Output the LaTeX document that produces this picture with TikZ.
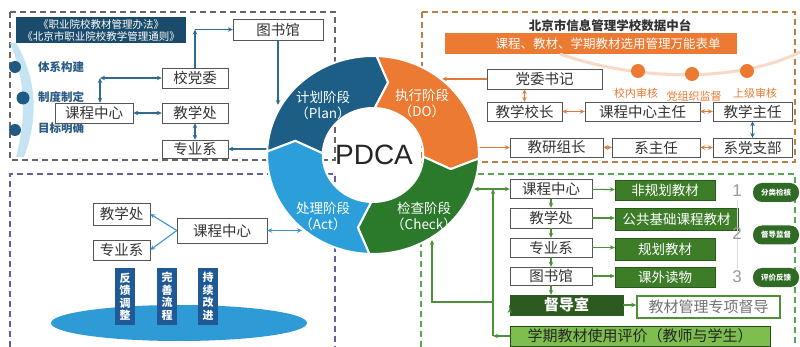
\documentclass[tikz,border=0pt]{standalone}
\usepackage{fontspec}
\setmainfont{Noto Sans CJK SC}
\newfontfamily\latinfont{Liberation Sans}
\usetikzlibrary{arrows.meta, positioning, calc}

\definecolor{plancol}{HTML}{1D5E86}
\definecolor{docol}{HTML}{EC7A32}
\definecolor{checkcol}{HTML}{2B7A2B}
\definecolor{actcol}{HTML}{2C9FDA}
\definecolor{navy}{HTML}{1B4B6A}
\definecolor{tlline}{HTML}{2F6A8F}
\definecolor{orline}{HTML}{E07B3C}
\definecolor{peach}{HTML}{F7D9C6}
\definecolor{blline}{HTML}{3C93CF}
\definecolor{tagblue}{HTML}{1F5A96}
\definecolor{ellblue}{HTML}{2E9BD6}
\definecolor{grline}{HTML}{4E8F3A}
\definecolor{grfill}{HTML}{3D7D28}
\definecolor{ddrfill}{HTML}{2D5A20}
\definecolor{ltgreen}{HTML}{7DBE4F}
\definecolor{pillgreen}{HTML}{2F6B24}
\definecolor{bandblue}{HTML}{C5E3F2}
\definecolor{dotblue}{HTML}{1E5A82}
\definecolor{lblblue}{HTML}{2B5C85}
\definecolor{boxline}{HTML}{555555}

\begin{document}
\begin{tikzpicture}[x=1pt, y=1pt,
  bx/.style={draw=boxline, fill=white, inner sep=0pt, minimum height=20pt, text=black!80,
    font=\fontsize{14.5}{15}\selectfont},
  gbx/.style={bx, fill=grfill, draw=grfill!70!black, text=white, font=\fontsize{13.5}{14}\selectfont},
  tag/.style={fill=tagblue, text=white, minimum width=20pt, minimum height=57pt, inner sep=0pt,
    align=center, font=\fontsize{11}{12.5}\selectfont\bfseries},
  pill/.style={fill=pillgreen, text=white, rounded corners=9pt, minimum width=46pt, minimum height=19pt,
    inner sep=0pt, font=\fontsize{7.5}{8}\selectfont\bfseries},
  seglbl/.style={text=white, align=center, font=\fontsize{13.5}{16}\selectfont},
  dashbox/.style={dash pattern=on 6pt off 4pt, line width=1.2pt},
  conn/.style={line width=1.1pt, >={Stealth[length=5pt, width=4.5pt]}}]
\useasboundingbox (0,0) rectangle (800,-347);

% dashed frames
\draw[dashbox, draw=gray!80!black] (10,-12) rectangle (335,-160);
\draw[dashbox, draw=orange!45!gray] (422,-12) rectangle (795,-162);
\draw[dashbox, draw=blue!25!gray] (10,-347) -- (10,-174) -- (335,-174) -- (335,-347);
\draw[dashbox, draw=green!30!gray] (421,-347) -- (421,-174) -- (795,-174) -- (795,-347);

% ---------- top left: plan ----------
\fill[bandblue] (16,-43) .. controls (38,-80) and (38,-120) .. (24,-157) -- (16,-157)
  .. controls (26,-120) and (26,-80) .. (10,-43) -- cycle;
\fill[dotblue] (15,-67) circle (6) (23,-98) circle (6.5) (15,-130) circle (6);
\node[fill=navy, minimum width=170pt, minimum height=26pt, inner sep=0pt, align=center, text=white,
  font=\fontsize{10.5}{12}\selectfont] (law) at (101,-30.5) {《职业院校教材管理办法》\\《北京市职业院校教学管理通则》};
\node[text=lblblue, font=\fontsize{11.5}{12}\selectfont\bfseries] (tx1) at (61,-67) {体系构建};
\node[text=lblblue, font=\fontsize{11.5}{12}\selectfont\bfseries] (tx2) at (61,-97) {制度制定};
\node[text=lblblue, font=\fontsize{11.5}{12}\selectfont\bfseries] (tx3) at (61,-128) {目标明确};

\node[bx, minimum width=66pt] (xdw) at (195,-78) {校党委};
\node[bx, minimum width=78pt] (kcz) at (94,-113) {课程中心};
\node[bx, minimum width=66pt] (jxc) at (195,-113) {教学处};
\node[bx, minimum width=66pt, minimum height=18pt] (zyx) at (195,-149) {专业系};
\node[bx, minimum width=90pt, minimum height=21pt] (tsg) at (278,-29.5) {图书馆};

\coordinate (c1) at (100,-78);
\coordinate (c2) at (195,-29.5);
\coordinate (pl1) at (278,-105);
\coordinate (pl2) at (268,-149);
\begin{scope}[conn, draw=tlline]
\draw[<->] (kcz.north -| c1) -- (c1);
\draw[<->] (c1) -- (xdw.west);
\draw[->] (xdw.north) -- (c2);
\draw[->] (c2) -- (tsg.west);
\draw[<->] (kcz) -- (jxc);
\draw[<->] (jxc) -- (zyx);
\draw[->] (tsg.south) -- (pl1);
\draw[->] (pl2) -- (zyx.east);
\end{scope}

% ---------- top right: do ----------
\node[text=black!80, font=\fontsize{12.5}{13}\selectfont\bfseries] (ttl) at (610,-26) {北京市信息管理学校数据中台};
\fill[docol] (445,-33) rectangle (737,-54);
\node[text=white, font=\fontsize{12.5}{13}\selectfont] (ban) at (608,-43.5) {课程、教材、学期教材选用管理万能表单};
\draw[peach, line width=3pt] (560,-54) .. controls (640,-82) and (740,-82) .. (800,-52);
\fill[docol] (638,-71) circle (7) (692,-74) circle (7) (747,-71) circle (7);
\node[text=docol, font=\fontsize{11}{11}\selectfont] (sh1) at (636,-93) {校内审核};
\node[text=docol, font=\fontsize{11}{11}\selectfont] (sh2) at (694,-96) {党组织监督};
\node[text=docol, font=\fontsize{11}{11}\selectfont] (sh3) at (755,-93) {上级审核};

\node[bx, minimum width=115pt] (dwsj) at (544.5,-79) {党委书记};
\node[bx, minimum width=75pt, minimum height=19pt] (jxxz) at (524.5,-111.5) {教学校长};
\node[bx, minimum width=115pt, minimum height=19pt] (kczr) at (642.5,-111.5) {课程中心主任};
\node[bx, minimum width=79pt, minimum height=19pt] (jxzr) at (752.5,-111.5) {教学主任};
\node[bx, minimum width=93pt, minimum height=19pt] (jyzz) at (556.5,-147.5) {教研组长};
\node[bx, minimum width=88pt, minimum height=19pt] (xzr) at (656,-147.5) {系主任};
\node[bx, minimum width=79pt, minimum height=19pt] (xdzb) at (752.5,-147.5) {系党支部};

\coordinate (do1) at (442,-79);
\coordinate (do2) at (478,-147.5);
\begin{scope}[conn, draw=orline]
\draw[<->] (jxxz.north) -- (jxxz.north |- dwsj.south);
\draw[<->] (jxxz) -- (kczr);
\draw[<->] (kczr) -- (jxzr);
\draw[<->] (jyzz) -- (xzr);
\draw[<->] (xzr) -- (xdzb);
\draw[<->, draw=tlline] (jxzr) -- (xdzb);
\draw[->] (dwsj.west) -- (do1);
\draw[->] (do2) -- (jyzz.west);
\end{scope}

% ---------- PDCA ring ----------
\begin{scope}[shift={(373,-155)}, xscale=1.07]
\foreach \s/\c in {178/plancol, 88/docol, -2/checkcol, -92/actcol} {
  \pgfmathsetmacro{\e}{\s-90}
  \pgfmathsetmacro{\ep}{\s-99}
  \pgfmathsetmacro{\sp}{\s-9}
  \filldraw[fill=\c, draw=white, line width=2pt] (\s:99) arc[start angle=\s, end angle=\e, radius=99]
    -- (\ep:74) -- (\e:47) arc[start angle=\e, end angle=\s, radius=47] -- (\sp:74) -- cycle;
}
\end{scope}
\node[font=\latinfont\fontsize{28}{28}\selectfont, text=black!85] (pdca) at (374,-155) {PDCA};
\node[seglbl] (plan) at (323,-105) {计划阶段\\（Plan）};
\node[seglbl] (do) at (422,-103) {执行阶段\\（DO）};
\node[seglbl] (check) at (424,-216) {检查阶段\\（Check）};
\node[seglbl] (act) at (323,-216) {处理阶段\\（Act）};

% ---------- bottom left: act ----------
\node[bx, minimum width=57pt, minimum height=22pt] (jxc2) at (121.5,-214) {教学处};
\node[bx, minimum width=57pt] (zyx2) at (121.5,-250) {专业系};
\node[bx, minimum width=90pt, minimum height=25pt] (kcz2) at (222,-230.5) {课程中心};
\coordinate (act1) at (302,-230.5);
\begin{scope}[conn, draw=blline]
\draw[->] (kcz2.west) -- (jxc2.east);
\draw[->] (kcz2.west) -- (zyx2.east);
\draw[<->] (kcz2.east) -- (act1);
\end{scope}
\fill[ellblue] (179,-323) ellipse [x radius=128, y radius=18];
\node[tag] (fk) at (125,-296.5) {反\\馈\\调\\整};
\node[tag] (ws) at (167,-296.5) {完\\善\\流\\程};
\node[tag] (cx) at (208,-296.5) {持\\续\\改\\进};

% ---------- bottom right: check ----------
\node[bx, minimum width=82pt, minimum height=19pt] (kcz3) at (551,-189) {课程中心};
\node[bx, minimum width=82pt] (jxc3) at (551,-218) {教学处};
\node[bx, minimum width=82pt, minimum height=19pt] (zyx3) at (551,-247.5) {专业系};
\node[bx, minimum width=82pt, minimum height=18pt] (tsg3) at (551,-276) {图书馆};
\node[bx, minimum width=113pt, fill=ddrfill, draw=ddrfill, text=white,
  font=\fontsize{15}{15}\selectfont\bfseries] (ddr) at (566.5,-305) {督导室};
\node[bx, minimum width=260pt, fill=ltgreen, draw=grfill!60!black, text=black!85,
  font=\fontsize{15}{15}\selectfont] (xqpj) at (640,-336) {学期教材使用评价（教师与学生）};

\node[gbx, minimum width=100pt] (fgh) at (665,-190) {非规划教材};
\node[gbx, minimum width=123pt, minimum height=22pt] (ggjc) at (676.5,-219) {公共基础课程教材};
\node[gbx, minimum width=100pt, minimum height=22pt] (ghjc) at (665,-249) {规划教材};
\node[gbx, minimum width=100pt] (kwdw) at (665,-277) {课外读物};
\node[bx, minimum width=143pt, minimum height=22pt, draw=grline, line width=1.5pt, text=black!55,
  font=\fontsize{15}{15}\selectfont] (zxdd) at (708.5,-307) {教材管理专项督导};

\draw[black!15, line width=1pt] (737,-200) -- (737,-268);
\node[text=black!40, font=\latinfont\fontsize{17}{17}\selectfont] (n1) at (737,-191) {1};
\node[text=black!40, font=\latinfont\fontsize{17}{17}\selectfont] (n2) at (737,-234) {2};
\node[text=black!40, font=\latinfont\fontsize{17}{17}\selectfont] (n3) at (737,-277) {3};
\node[pill] (p1) at (776,-192.5) {分类检核};
\node[pill] (p2) at (776,-235) {督导监督};
\node[pill] (p3) at (776,-277.5) {评价反馈};

\coordinate (ck1) at (474,-189);
\coordinate (ck2) at (432,-240);
\coordinate (bus) at (493,-189);
\coordinate (bj) at (493,-302);
\begin{scope}[conn, draw=grline]
\draw[<->] (ck1) -- (kcz3.west);
\draw[->] (kcz3) -- (jxc3);
\draw[->] (jxc3) -- (zyx3);
\draw[->] (zyx3) -- (tsg3);
\draw[->] (tsg3.south) -- (tsg3.south |- ddr.north);
\draw[->] (kcz3) -- (fgh);
\draw[->] (jxc3.east) -- (jxc3.east -| ggjc.west);
\draw[->] (zyx3) -- (zyx3 -| ghjc.west);
\draw[->] (tsg3) -- (tsg3 -| kwdw.west);
\draw[->] (ddr) -- (ddr -| zxdd.west);
\draw[->] ($(ddr.west)+(0,-3)$) -- ($(ddr.west)+(0,-3)$ -| bus);
\draw[->] (xqpj.west) -- (xqpj.west -| bus);
\draw[->] (xqpj.west -| bus) -- (bus);
\draw[->] (bj) -| (ck2);
\end{scope}
\end{tikzpicture}
\end{document}
